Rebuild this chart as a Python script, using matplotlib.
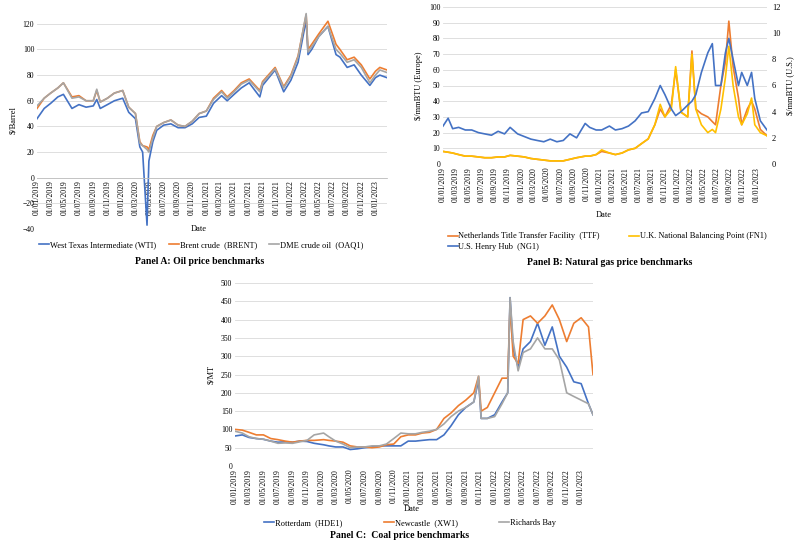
import numpy as np
import pandas as pd
import matplotlib
matplotlib.use("Agg")
import matplotlib.pyplot as plt
import matplotlib.dates as mdates

plt.rcParams['font.family'] = ['Liberation Serif', 'DejaVu Serif']
plt.rcParams['font.size'] = 6

# --- Panel A data (oil) ---
oil_dates = pd.to_datetime([
    "2019-01-01", "2019-02-01", "2019-03-01", "2019-04-01", "2019-04-25", "2019-06-01", "2019-07-01", "2019-08-01",
    "2019-09-01", "2019-09-16", "2019-10-01", "2019-11-01", "2019-12-01", "2020-01-06", "2020-02-01", "2020-03-01",
    "2020-03-20", "2020-04-01", "2020-04-20", "2020-04-28", "2020-05-15", "2020-06-01", "2020-07-01", "2020-08-01",
    "2020-09-01", "2020-10-01", "2020-11-01", "2020-12-01", "2021-01-01", "2021-02-01", "2021-03-08", "2021-04-01",
    "2021-05-01", "2021-06-01", "2021-07-05", "2021-08-20", "2021-09-01", "2021-10-25", "2021-12-01", "2022-01-01",
    "2022-02-01", "2022-03-08", "2022-03-16", "2022-04-01", "2022-05-01", "2022-06-10", "2022-07-15", "2022-08-01",
    "2022-09-01", "2022-10-01", "2022-11-01", "2022-12-08", "2023-01-01", "2023-01-20", "2023-02-20"])
wti = [46, 54, 58, 63, 65, 54, 57, 55, 56, 61, 54, 57, 60, 62, 51, 46,
       24, 20, -37, 13, 28, 37, 41, 42, 39, 39, 42, 47, 48, 58, 64, 60,
       65, 70, 74, 63, 72, 84, 67, 76, 90, 123, 96, 100, 110, 118, 96, 94,
       86, 88, 80, 72, 78, 80, 78]
brent = [54, 62, 66, 70, 74, 63, 64, 60, 60, 68, 59, 62, 66, 68, 55, 50,
         28, 25, 24, 22, 33, 40, 43, 45, 41, 40, 44, 50, 52, 62, 68, 63,
         68, 74, 77, 68, 75, 86, 71, 80, 95, 127, 100, 104, 112, 122, 104, 100,
         92, 94, 88, 77, 83, 86, 84]
dme = [56, 62, 66, 70, 74, 62, 63, 60, 60, 69, 59, 62, 66, 68, 55, 50,
       27, 25, 22, 20, 31, 40, 43, 45, 41, 40, 44, 50, 52, 61, 67, 62,
       67, 73, 76, 67, 74, 85, 70, 79, 94, 128, 98, 102, 110, 118, 100, 97,
       90, 92, 86, 74, 80, 84, 82]

# --- Panel B data (gas) ---
gas_dates = pd.to_datetime([
    "2019-01-01", "2019-01-25", "2019-02-15", "2019-03-15", "2019-04-15", "2019-05-15", "2019-06-15", "2019-07-15",
    "2019-08-15", "2019-09-15", "2019-10-15", "2019-11-10", "2019-12-15", "2020-01-15", "2020-02-15", "2020-03-15",
    "2020-04-15", "2020-05-15", "2020-06-15", "2020-07-15", "2020-08-15", "2020-09-15", "2020-10-25", "2020-11-15",
    "2020-12-15", "2021-01-10", "2021-02-15", "2021-03-15", "2021-04-15", "2021-05-15", "2021-06-15", "2021-07-15",
    "2021-08-15", "2021-09-15", "2021-10-10", "2021-11-01", "2021-12-01", "2021-12-21", "2022-01-15", "2022-02-15",
    "2022-03-07", "2022-03-25", "2022-04-20", "2022-05-20", "2022-06-10", "2022-06-25", "2022-07-20", "2022-08-10",
    "2022-08-26", "2022-09-15", "2022-10-10", "2022-10-25", "2022-11-20", "2022-12-10", "2022-12-25", "2023-01-20",
    "2023-02-20"])
ttf = [8, 7.5, 7, 6, 5, 5, 4.5, 4, 4, 4.5, 4.5, 5.5, 5, 4.5, 3.5, 3,
       2.5, 2, 2, 2, 3, 4, 5, 5, 6, 8, 7, 6, 7, 9, 10, 13,
       16, 25, 35, 30, 38, 60, 33, 30, 72, 35, 32, 30, 27, 25, 50, 65,
       91, 62, 42, 25, 35, 40, 35, 22, 18]
nbp = [8, 7.5, 7, 6, 5, 5, 4.5, 4, 4, 4.5, 4.5, 5.5, 5, 4.5, 3.5, 3,
       2.5, 2, 2, 2, 3, 4, 5, 5, 6, 9, 7, 6, 7, 9, 10, 13,
       16, 25, 38, 30, 35, 62, 33, 30, 70, 35, 25, 20, 22, 20, 35, 55,
       75, 50, 30, 25, 32, 42, 25, 20, 18]
henry_hub = [2.9, 3.5, 2.7, 2.8, 2.6, 2.6, 2.4, 2.3, 2.2, 2.5, 2.3, 2.8, 2.3, 2.1, 1.9, 1.8,
             1.7, 1.9, 1.7, 1.8, 2.3, 2.0, 3.1, 2.8, 2.6, 2.6, 2.9, 2.6, 2.7, 2.9, 3.3, 3.9,
             4.0, 5.0, 6.0, 5.3, 4.2, 3.7, 4.0, 4.5, 4.8, 5.3, 7.0, 8.5, 9.2, 6.0, 6.0, 8.5,
             9.6, 8.0, 6.0, 7.0, 6.0, 7.0, 5.0, 3.3, 2.6]

# --- Panel C data (coal) ---
coal_dates = pd.to_datetime([
    "2019-01-01", "2019-02-01", "2019-03-01", "2019-04-01", "2019-05-01", "2019-06-01", "2019-07-01", "2019-08-01",
    "2019-09-01", "2019-10-01", "2019-11-01", "2019-12-01", "2020-01-10", "2020-02-01", "2020-03-01", "2020-04-01",
    "2020-05-01", "2020-06-01", "2020-07-01", "2020-08-01", "2020-09-01", "2020-10-01", "2020-11-01", "2020-12-01",
    "2021-01-01", "2021-02-01", "2021-03-01", "2021-04-01", "2021-05-01", "2021-06-01", "2021-07-01", "2021-08-01",
    "2021-09-01", "2021-10-05", "2021-10-25", "2021-11-05", "2021-12-01", "2022-01-01", "2022-02-01", "2022-02-25",
    "2022-03-07", "2022-03-20", "2022-04-10", "2022-05-01", "2022-06-01", "2022-07-01", "2022-08-01", "2022-09-01",
    "2022-10-01", "2022-11-01", "2022-12-01", "2023-01-01", "2023-02-01", "2023-02-20"])
rotterdam = [82, 85, 78, 75, 73, 68, 65, 66, 65, 68, 67, 62, 58, 55, 52, 52,
             45, 47, 50, 52, 55, 55, 55, 55, 68, 68, 70, 72, 72, 85, 110, 140,
             160, 175, 235, 130, 130, 140, 175, 200,
             460, 320, 270, 320, 340, 390, 330, 380, 300, 270, 230, 225, 170, 140]
newcastle = [100, 98, 92, 85, 85, 75, 72, 68, 65, 68, 70, 70, 72, 70, 68, 65,
             55, 52, 52, 50, 52, 58, 60, 80, 85, 85, 90, 92, 100, 130, 145, 165,
             180, 200, 245, 150, 160, 200, 240, 240,
             440, 300, 280, 400, 410, 390, 410, 440, 400, 340, 390, 405, 380, 250]
richards_bay = [95, 90, 80, 75, 73, 68, 62, 63, 62, 66, 70, 85, 90, 80, 68, 60,
                50, 52, 52, 55, 55, 60, 75, 90, 88, 88, 92, 95, 100, 115, 135, 150,
                160, 175, 245, 130, 130, 135, 170, 200,
                460, 340, 260, 310, 320, 350, 320, 320, 290, 200, 190, 180, 170, 140]

BLUE = '#4472C4'
ORANGE = '#ED7D31'
GRAY = '#A5A5A5'
YELLOW = '#FFC000'
TICK_FS = 5.5


def style_ax(ax, start, end):
    ticks = pd.date_range("2019-01-01", "2023-01-01", freq="2MS")
    ax.set_xticks(ticks)
    ax.set_xticklabels([t.strftime("%d/%m/%Y") for t in ticks])
    ax.set_xlim(pd.Timestamp(start), pd.Timestamp(end))
    ax.grid(axis='y', color='#d9d9d9', linewidth=0.6)
    ax.set_axisbelow(True)
    for s in ax.spines.values():
        s.set_visible(False)
    ax.tick_params(length=0, labelsize=TICK_FS, pad=2)
    ax.tick_params(axis='x', labelrotation=90)


fig = plt.figure(figsize=(8.01, 5.41), dpi=100)
W, H = 801, 541


def add_ax(l, t, r, b):
    return fig.add_axes([l / W, 1 - b / H, (r - l) / W, (b - t) / H])


# Panel A
ax1 = add_ax(37, 11, 387, 229)
ax1.plot(oil_dates, wti, color=BLUE, lw=1.2, label='West Texas Intermediate (WTI)')
ax1.plot(oil_dates, brent, color=ORANGE, lw=1.2, label='Brent crude  (BRENT)')
ax1.plot(oil_dates, dme, color=GRAY, lw=1.2, label='DME crude oil  (OAQ1)')
ax1.set_ylim(-40, 130)
ax1.set_yticks(range(-40, 121, 20))
ax1.spines['bottom'].set_position(('data', 0))
style_ax(ax1, "2019-01-01", "2023-02-20")
ax1.spines['bottom'].set_visible(True)
ax1.spines['bottom'].set_color('#bfbfbf')
ax1.spines['bottom'].set_linewidth(0.6)
ax1.set_ylabel("$/Barrel", fontsize=6)
fig.text(199 / W, 1 - 229 / H, "Date", ha='center', va='center', fontsize=6)
ax1.legend(loc='upper center', bbox_to_anchor=(0.47, -0.02), ncol=3, frameon=False, fontsize=6,
           handlelength=1.2, handletextpad=0.1, columnspacing=1.5)
fig.text(200 / W, 1 - 262 / H, "Panel A: Oil price benchmarks", ha='center', va='center',
         fontsize=7, fontweight='bold')

# Panel B
ax2 = add_ax(443, 7, 767, 164)
ax2.plot(gas_dates, ttf, color=ORANGE, lw=1.2, label='Netherlands Title Transfer Facility  (TTF)')
ax2.plot(gas_dates, nbp, color=YELLOW, lw=1.2, label='U.K. National Balancing Point (FN1)')
ax2.set_ylim(0, 100)
ax2.set_yticks(range(0, 101, 10))
style_ax(ax2, "2019-01-01", "2023-02-20")
ax2.set_ylabel("$/mmBTU (Europe)", fontsize=6)
ax2b = ax2.twinx()
ax2b.plot(gas_dates, henry_hub, color=BLUE, lw=1.2, label='U.S. Henry Hub  (NG1)')
ax2b.set_ylim(0, 12)
ax2b.set_yticks(range(0, 13, 2))
for s in ax2b.spines.values():
    s.set_visible(False)
ax2b.tick_params(length=0, labelsize=6)
ax2b.set_ylabel("$/mmBTU (U.S.)", fontsize=6)
fig.text(604 / W, 1 - 215 / H, "Date", ha='center', va='center', fontsize=6)
h1, l1 = ax2.get_legend_handles_labels()
h2, l2 = ax2b.get_legend_handles_labels()
fig.legend([h1[0], h2[0], h1[1]], [l1[0], l2[0], l1[1]], loc='upper left',
           bbox_to_anchor=(440 / W, 1 - 225 / H), ncol=2,
           frameon=False, fontsize=6, handlelength=1.2, handletextpad=0.1, columnspacing=3.5, labelspacing=0.3)
fig.text(610 / W, 1 - 263 / H, "Panel B: Natural gas price benchmarks", ha='center', va='center',
         fontsize=7, fontweight='bold')

# Panel C
ax3 = add_ax(235, 283, 593, 466)
ax3.plot(coal_dates, rotterdam, color=BLUE, lw=1.2, label='Rotterdam  (HDE1)')
ax3.plot(coal_dates, newcastle, color=ORANGE, lw=1.2, label='Newcastle  (XW1)')
ax3.plot(coal_dates, richards_bay, color=GRAY, lw=1.2, label='Richards Bay')
ax3.set_ylim(0, 500)
ax3.set_yticks(range(0, 501, 50))
style_ax(ax3, "2019-01-01", "2023-02-20")
ax3.set_ylabel("$/MT", fontsize=6)
fig.text(412 / W, 1 - 509 / H, "Date", ha='center', va='center', fontsize=6)
fig.legend(*ax3.get_legend_handles_labels(), loc='center', bbox_to_anchor=(410 / W, 1 - 523 / H), ncol=3,
           frameon=False, fontsize=6, handlelength=1.2, handletextpad=0.1, columnspacing=5)
fig.text(400 / W, 1 - 535 / H, "Panel C:  Coal price benchmarks", ha='center', va='center',
         fontsize=7, fontweight='bold')

fig.savefig("out.png", dpi=100, facecolor='white')
